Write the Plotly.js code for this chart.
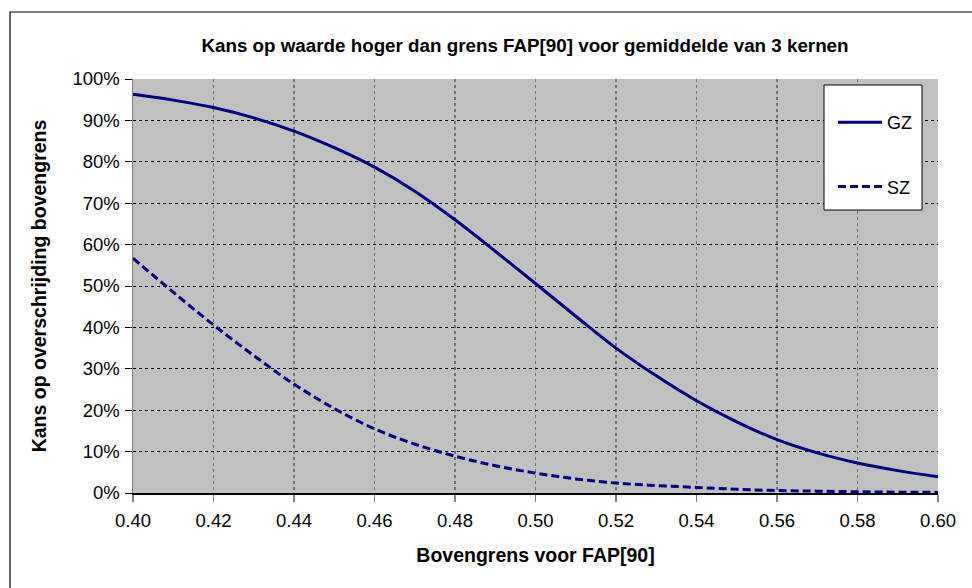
<!DOCTYPE html>
<html>
<head>
<meta charset="utf-8">
<script src="https://cdn.plot.ly/plotly-3.0.1.min.js"></script>
<style>
html,body{margin:0;padding:0;background:#fff;}
#chart{width:972px;height:588px;}
</style>
</head>
<body>
<div id="chart"></div>
<script>
// Data
var xValues = [0.40,0.41,0.42,0.43,0.44,0.45,0.46,0.47,0.48,0.49,0.50,0.51,0.52,0.53,0.54,0.55,0.56,0.57,0.58,0.59,0.60];
var gzValues = [0.963,0.949,0.931,0.906,0.874,0.834,0.787,0.729,0.660,0.584,0.506,0.427,0.350,0.283,0.223,0.172,0.129,0.097,0.0725,0.054,0.039];
var szValues = [0.567,0.485,0.406,0.332,0.263,0.204,0.155,0.118,0.089,0.066,0.048,0.034,0.024,0.018,0.0135,0.009,0.006,0.0045,0.003,0.002,0.0015];
var seriesNames = ["GZ","SZ"];
var xTickVals = [0.40,0.42,0.44,0.46,0.48,0.50,0.52,0.54,0.56,0.58,0.60];
var yTickVals = [0,0.1,0.2,0.3,0.4,0.5,0.6,0.7,0.8,0.9,1.0];
var chartTitle = "Kans op waarde hoger dan grens FAP[90] voor gemiddelde van 3 kernen";
var xTitle = "Bovengrens voor FAP[90]";
var yTitle = "Kans op overschrijding bovengrens";

var font = "Liberation Sans, Arial, sans-serif";
var navy = "#000080";

var traces = [
  {x: xValues, y: gzValues, name: seriesNames[0], type: "scatter", mode: "lines",
   line: {color: navy, width: 3, shape: "spline", smoothing: 1}, legendgroup: "a"},
  {x: xValues, y: szValues, name: seriesNames[1], type: "scatter", mode: "lines",
   line: {color: navy, width: 3, dash: "8px,4px", shape: "spline", smoothing: 1}, legendgroup: "b"}
];

var L = 133, R = 938, T = 79, B = 493;
function px(x) { return (x - L) / (R - L); }
function py(y) { return (B - y) / (B - T); }

var layout = {
  width: 972, height: 588,
  paper_bgcolor: "#ffffff",
  plot_bgcolor: "#c0c0c0",
  margin: {l: L, r: 972 - R, t: T, b: 588 - B},
  font: {family: font, color: "#000", size: 16},
  title: {text: "<b>" + chartTitle + "</b>", x: 525/972, xref: "container", xanchor: "center",
          y: 1 - 45/588, yref: "container", yanchor: "middle",
          font: {family: font, size: 18.8, color: "#000"}},
  xaxis: {
    range: [0.40, 0.60], tickvals: xTickVals, tickformat: ".2f",
    showgrid: true, gridcolor: "#707070", gridwidth: 1.5, griddash: "dot",
    showline: true, linecolor: "#000", linewidth: 1.5,
    ticks: "outside", ticklen: 7, tickcolor: "#808080", tickwidth: 1.5,
    ticklabelstandoff: 3,
    tickfont: {family: font, size: 18.5, color: "#000"},
    zeroline: false,
    title: {text: "<b>" + xTitle + "</b>", font: {family: font, size: 19.5, color: "#000"}, standoff: 18}
  },
  yaxis: {
    range: [0, 1], tickvals: yTickVals, tickformat: ".0%",
    showgrid: true, gridcolor: "#000", gridwidth: 1, griddash: "dot",
    showline: true, linecolor: "#808080", linewidth: 1.5,
    ticks: "outside", ticklen: 7, tickcolor: "#000", tickwidth: 1,
    ticklabelstandoff: 1,
    tickfont: {family: font, size: 18.5, color: "#000"},
    zeroline: false,
    title: {text: "<b>" + yTitle + "</b>", font: {family: font, size: 19.5, color: "#000"}, standoff: 20}
  },
  showlegend: true,
  legend: {
    x: px(833), xanchor: "left",
    y: py(104), yanchor: "top",
    bgcolor: "rgba(0,0,0,0)", borderwidth: 0,
    itemwidth: 44,
    font: {family: font, size: 18, color: "#000"},
    traceorder: "grouped", tracegroupgap: 38
  },
  shapes: [
    {type: "rect", xref: "paper", yref: "paper",
     x0: px(824), x1: px(922), y0: py(210), y1: py(85),
     fillcolor: "#ffffff", line: {color: "#000", width: 1}, layer: "above"},
    {type: "rect", xref: "paper", yref: "paper",
     x0: px(10), x1: px(985), y0: py(600), y1: py(12),
     fillcolor: "rgba(0,0,0,0)", line: {color: "#000", width: 1.2}, layer: "below"}
  ]
};

Plotly.newPlot("chart", traces, layout, {displayModeBar: false, staticPlot: true});
</script>
</body>
</html>
